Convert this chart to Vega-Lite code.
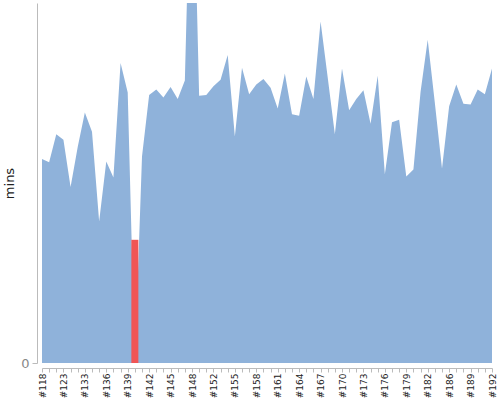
{
  "$schema": "https://vega.github.io/schema/vega-lite/v6.json",
  "autosize": "none",
  "padding": {"left": 42, "top": 3, "right": 8, "bottom": 37},
  "width": 450,
  "height": 360,
  "config": {"view": {"stroke": null}, "font": "DejaVu Sans"},
  "data": {"values": [
    {"build": "#118", "mins": 25.5}, {"build": "#119", "mins": 25.1}, {"build": "#121", "mins": 28.6}, {"build": "#123", "mins": 27.9},
    {"build": "#126", "mins": 22.0}, {"build": "#130", "mins": 27.0}, {"build": "#133", "mins": 31.3}, {"build": "#134", "mins": 28.9},
    {"build": "#135", "mins": 17.7}, {"build": "#136", "mins": 25.2}, {"build": "#137", "mins": 23.2}, {"build": "#138", "mins": 37.5},
    {"build": "#139", "mins": 33.8}, {"build": "#140", "mins": 0, "failed": 15.4}, {"build": "#141", "mins": 25.8}, {"build": "#142", "mins": 33.5},
    {"build": "#143", "mins": 34.2}, {"build": "#144", "mins": 33.2}, {"build": "#145", "mins": 34.5}, {"build": "#146", "mins": 33.0},
    {"build": "#147", "mins": 35.3}, {"build": "#148", "mins": 69.8}, {"build": "#149", "mins": 33.4}, {"build": "#150", "mins": 33.5},
    {"build": "#152", "mins": 34.6}, {"build": "#153", "mins": 35.4}, {"build": "#154", "mins": 38.5}, {"build": "#155", "mins": 28.3},
    {"build": "#156", "mins": 36.9}, {"build": "#157", "mins": 33.6}, {"build": "#158", "mins": 34.8}, {"build": "#159", "mins": 35.5},
    {"build": "#160", "mins": 34.4}, {"build": "#161", "mins": 31.8}, {"build": "#162", "mins": 36.2}, {"build": "#163", "mins": 31.1},
    {"build": "#164", "mins": 30.9}, {"build": "#165", "mins": 35.8}, {"build": "#166", "mins": 33.0}, {"build": "#167", "mins": 42.7},
    {"build": "#168", "mins": 35.7}, {"build": "#169", "mins": 28.6}, {"build": "#170", "mins": 36.8}, {"build": "#171", "mins": 31.6},
    {"build": "#172", "mins": 33.0}, {"build": "#173", "mins": 34.1}, {"build": "#174", "mins": 29.9}, {"build": "#175", "mins": 35.9},
    {"build": "#176", "mins": 23.6}, {"build": "#177", "mins": 30.1}, {"build": "#178", "mins": 30.4}, {"build": "#179", "mins": 23.3},
    {"build": "#180", "mins": 24.2}, {"build": "#181", "mins": 33.9}, {"build": "#182", "mins": 40.4}, {"build": "#183", "mins": 32.5},
    {"build": "#184", "mins": 24.3}, {"build": "#186", "mins": 32.1}, {"build": "#187", "mins": 34.8}, {"build": "#188", "mins": 32.4},
    {"build": "#189", "mins": 32.3}, {"build": "#190", "mins": 34.2}, {"build": "#191", "mins": 33.6}, {"build": "#192", "mins": 36.8}
  ]},
  "encoding": {
    "x": {
      "field": "build", "type": "ordinal", "sort": null,
      "scale": {"type": "point", "padding": 0, "domain": ["#118","#119","#121","#123","#126","#130","#133","#134","#135","#136","#137","#138","#139","#140","#141","#142","#143","#144","#145","#146","#147","#148","#149","#150","#152","#153","#154","#155","#156","#157","#158","#159","#160","#161","#162","#163","#164","#165","#166","#167","#168","#169","#170","#171","#172","#173","#174","#175","#176","#177","#178","#179","#180","#181","#182","#183","#184","#186","#187","#188","#189","#190","#191","#192"]},
      "axis": {
        "title": null, "offset": 5, "labelAngle": -90, "labelFontSize": 9, "labelColor": "#222",
        "domainColor": "#bbbbbb", "tickColor": "#bbbbbb", "tickSize": 4, "labelPadding": 1,
        "labelExpr": "indexof(['#118','#123','#133','#136','#139','#142','#145','#148','#152','#155','#158','#161','#164','#167','#170','#173','#176','#179','#182','#186','#189','#192'], datum.label) >= 0 ? datum.label : ''"
      }
    }
  },
  "layer": [
    {
      "mark": {"type": "area", "color": "#8fb2da", "opacity": 1, "clip": true, "interpolate": "linear"},
      "encoding": {
        "y": {
          "field": "mins", "type": "quantitative",
          "scale": {"domain": [0, 45], "nice": false},
          "axis": {
            "title": "mins", "values": [0], "offset": 5, "grid": false,
            "domainColor": "#bbbbbb", "tickColor": "#bbbbbb", "tickSize": 5,
            "labelColor": "#888888", "labelFontSize": 13, "labelPadding": 3,
            "titleFontSize": 13, "titleFontWeight": "normal", "titleColor": "#222", "titlePadding": 4
          }
        }
      }
    },
    {
      "transform": [{"filter": "isValid(datum.failed)"}],
      "mark": {"type": "rule", "color": "#f05555", "strokeWidth": 7, "strokeCap": "butt"},
      "encoding": {
        "y": {"field": "failed", "type": "quantitative", "scale": {"domain": [0, 45], "nice": false}},
        "y2": {"datum": 0}
      }
    }
  ]
}
